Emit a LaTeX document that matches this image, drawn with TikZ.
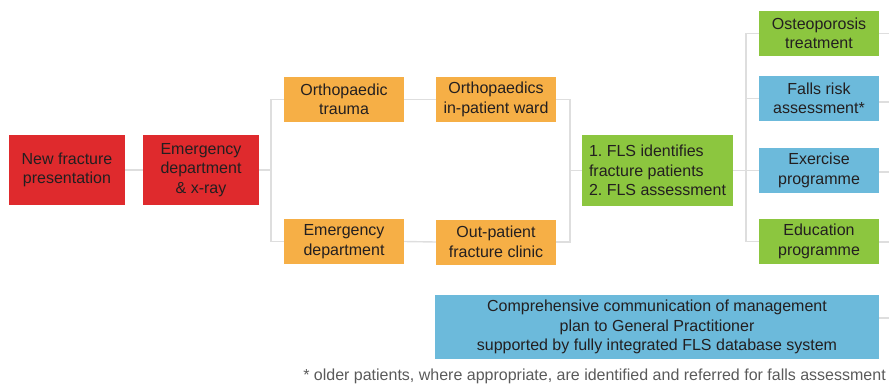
\documentclass[tikz,border=0pt]{standalone}
\usepackage{fontspec}
\setmainfont{Liberation Sans}
\frenchspacing
\definecolor{cred}{HTML}{DF2A2D}
\definecolor{corange}{HTML}{F6AF46}
\definecolor{cgreen}{HTML}{8CC63F}
\definecolor{cblue}{HTML}{6CBADB}
\definecolor{cline}{HTML}{DEDEDE}
\definecolor{ctext}{HTML}{231F20}
\definecolor{cnote}{HTML}{5A5A5A}
\begin{document}
\begin{tikzpicture}[x=1pt,y=-1pt,
  box/.style={inner sep=0pt, align=center, text=ctext,
    font=\fontsize{16}{19.5}\selectfont},
  redbox/.style={box, fill=cred, minimum width=116, minimum height=70},
  orbox/.style={box, fill=corange, minimum width=120, minimum height=45},
  grbox/.style={box, fill=cgreen, minimum width=120, minimum height=45},
  blbox/.style={box, fill=cblue, minimum width=120, minimum height=45},
  conn/.style={draw=cline, line width=1.4pt},
]
\useasboundingbox (0,0) rectangle (889,383);

% nodes
\node[redbox] (nf) at (67,170) {New fracture\\presentation};
\node[redbox] (ed) at (201,170) {Emergency\\department\\\& x-ray};
\node[orbox] (ot) at (344,99.5) {Orthopaedic\\trauma};
\node[orbox] (ipw) at (496,99.5) {Orthopaedics\\in-patient ward};
\node[orbox] (emd) at (344,241.5) {Emergency\\department};
\node[orbox] (opc) at (496,242) {Out-patient\\fracture clinic};
\node[box, fill=cgreen, minimum width=151, minimum height=71, align=left] (fls) at (657.5,170.5)
  {1. FLS identifies\\fracture patients\\2. FLS assessment};
\node[grbox] (ost) at (819,33.5) {Osteoporosis\\treatment};
\node[blbox] (frs) at (819,98.5) {Falls risk\\assessment*};
\node[blbox] (exe) at (819,170.5) {Exercise\\programme};
\node[grbox] (edu) at (819,241.5) {Education\\programme};
\node[box, fill=cblue, minimum width=444, minimum height=64] (com) at (657,327)
  {Comprehensive communication of management\\plan to General Practitioner\\supported by fully integrated FLS database system};
\node[anchor=base east, inner sep=0pt, text=cnote, font=\fontsize{16}{18}\selectfont] (note) at (886,380)
  {* older patients, where appropriate, are identified and referred for falls assessment};

% coordinates
\coordinate (s1) at (271,170);
\coordinate (s1t) at (271,99.5);
\coordinate (s1b) at (271,241.5);
\coordinate (m1) at (570,170.5);
\coordinate (m1t) at (570,99.5);
\coordinate (m1b) at (570,242);
\coordinate (r1) at (746,170.5);
\coordinate (r1t) at (746,33.5);
\coordinate (r1b) at (746,241.5);
\coordinate (e1) at (889,33.5);
\coordinate (e2) at (889,102);
\coordinate (e3) at (889,172);
\coordinate (e4) at (889,242);
\coordinate (e5) at (889,318);

% connectors
\draw[conn] (nf.east) -- (ed.west);
\draw[conn] (ed.east) -- (s1);
\draw[conn] (ot.west) -- (s1t) -- (s1b) -- (emd.west);
\draw[conn] (ot.east) -- (ipw.west);
\draw[conn] (emd.east) -- (opc.west);
\draw[conn] (ipw.east) -- (m1t) -- (m1b) -- (opc.east);
\draw[conn] (m1) -- (fls.west);
\draw[conn] (fls.east) -- (r1);
\draw[conn] (ost.west) -- (r1t) -- (r1b) -- (edu.west);
\draw[conn] (r1t |- frs.west) -- (frs.west);
\draw[conn] (r1) -- (exe.west);
\draw[conn] (ost.east) -- (e1);
\draw[conn] (frs.east |- e2) -- (e2);
\draw[conn] (exe.east |- e3) -- (e3);
\draw[conn] (edu.east |- e4) -- (e4);
\draw[conn] (com.east |- e5) -- (e5);
\end{tikzpicture}
\end{document}
